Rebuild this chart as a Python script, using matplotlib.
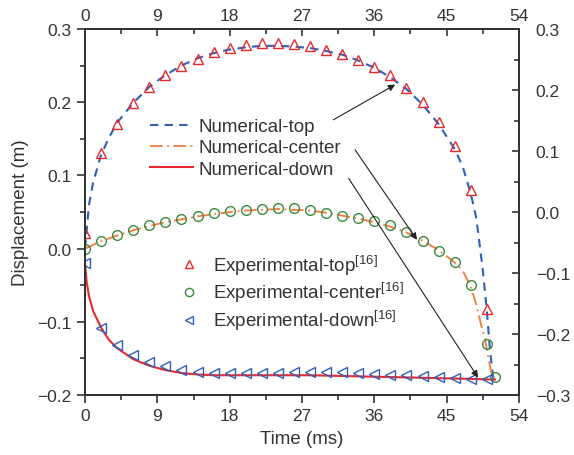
#!/usr/bin/env python3
"""Displacement vs time: numerical curves against experimental points (top / center / down)."""
import matplotlib
matplotlib.use("Agg")
import matplotlib.pyplot as plt

plt.rcParams["font.family"] = ["Liberation Sans", "DejaVu Sans"]
plt.rcParams["mathtext.default"] = "regular"

TEXT = "#333333"
BLUE = "#2f5fb8"
ORANGE = "#f47a3c"
RED = "#e8282c"
GREEN = "#3b8b3b"

# experimental points (time in ms, displacement in m)
exp_t = [0, 2, 4, 6, 8, 10, 12, 14, 16, 18, 20, 22, 24, 26, 28, 30, 32, 34, 36, 38, 40, 42, 44, 46, 48, 50]
exp_top = [0.021, 0.131, 0.170, 0.199, 0.221, 0.237, 0.250, 0.259, 0.268, 0.274, 0.278, 0.281, 0.281,
           0.279, 0.277, 0.271, 0.266, 0.258, 0.248, 0.237, 0.220, 0.200, 0.173, 0.140, 0.080, -0.082]
exp_center_t = exp_t + [51]
exp_center = [0.000, 0.010, 0.019, 0.025, 0.032, 0.037, 0.040, 0.044, 0.048, 0.052, 0.053, 0.054, 0.056,
              0.055, 0.053, 0.048, 0.044, 0.042, 0.038, 0.032, 0.022, 0.010, -0.003, -0.018, -0.050,
              -0.131, -0.176]
exp_down = [-0.020, -0.108, -0.132, -0.146, -0.155, -0.161, -0.166, -0.169, -0.170, -0.170, -0.170,
            -0.170, -0.170, -0.169, -0.169, -0.169, -0.169, -0.170, -0.171, -0.172, -0.173, -0.174,
            -0.176, -0.177, -0.178, -0.178]

# numerical curves
num_top_t = [0, 0.5, 1, 2, 3, 4, 6, 8, 10, 12, 14, 16, 18, 20, 22, 24, 26, 28, 30, 32, 34, 36, 38, 40,
             42, 44, 46, 47, 48, 48.7, 49.5, 50, 50.4, 50.8]
num_top = [0.0, 0.060, 0.090, 0.128, 0.152, 0.172, 0.199, 0.221, 0.237, 0.250, 0.260, 0.267, 0.272,
           0.275, 0.277, 0.277, 0.276, 0.274, 0.270, 0.265, 0.257, 0.247, 0.234, 0.218, 0.197, 0.170,
           0.136, 0.112, 0.075, 0.041, -0.030, -0.085, -0.140, -0.177]
num_center_t = [0, 2, 4, 6, 8, 10, 12, 14, 16, 18, 20, 22, 24, 26, 28, 30, 32, 34, 36, 38, 40, 42, 44,
                46, 47, 48, 48.7, 49.3, 49.8, 50.2, 50.6, 51.0]
num_center = [0.0, 0.010, 0.018, 0.025, 0.031, 0.036, 0.040, 0.044, 0.047, 0.050, 0.052, 0.053, 0.054,
              0.053, 0.052, 0.049, 0.045, 0.041, 0.036, 0.030, 0.022, 0.011, -0.002, -0.019, -0.030,
              -0.052, -0.077, -0.105, -0.125, -0.150, -0.172, -0.178]
num_down_t = [0, 0.2, 0.5, 1, 2, 3, 4, 6, 8, 10, 12, 14, 16, 20, 24, 28, 32, 36, 40, 44, 48, 51]
num_down = [-0.020, -0.045, -0.065, -0.085, -0.108, -0.125, -0.136, -0.151, -0.160, -0.166, -0.170,
            -0.172, -0.173, -0.173, -0.173, -0.173, -0.174, -0.175, -0.176, -0.177, -0.178, -0.179]

# annotation arrows: (text-side start, arrow tip)
arrows = [((30.9, 0.176), (38.6, 0.224)),
          ((33.6, 0.135), (41.3, 0.012)),
          ((32.8, 0.096), (48.9, -0.176))]

x_ticks = [0, 9, 18, 27, 36, 45, 54]


def main():
    fig = plt.figure(figsize=(5.74, 4.56), dpi=100)
    ax = fig.add_axes([85 / 574, 60 / 456, 434 / 574, 366 / 456])

    l_top, = ax.plot(num_top_t, num_top, color=BLUE, lw=1.5, ls=(0, (4, 3)))
    l_cen, = ax.plot(num_center_t, num_center, color=ORANGE, lw=1.3, ls=(0, (7, 2.5, 1, 2.5)))
    l_dn, = ax.plot(num_down_t, num_down, color=RED, lw=1.5)

    mk = dict(ls="none", markersize=7, markerfacecolor="none", markeredgewidth=1.0)
    m_top, = ax.plot(exp_t, exp_top, marker="^", markeredgecolor=RED, **mk)
    m_cen, = ax.plot(exp_center_t, exp_center, marker="o", markeredgecolor=GREEN, **mk)
    m_dn, = ax.plot(exp_t, exp_down, marker="<", markeredgecolor=BLUE, **mk)

    for start, tip in arrows:
        ax.annotate("", xy=tip, xytext=start,
                    arrowprops=dict(arrowstyle="-|>", color="#222222", lw=0.8,
                                    mutation_scale=10, shrinkA=0, shrinkB=0))

    ax.set_xlim(0, 54)
    ax.set_ylim(-0.2, 0.3)
    ax.set_xticks(x_ticks)
    ax.set_xticks([4.5 + 9 * i for i in range(6)], minor=True)
    ax.set_yticks([-0.2, -0.1, 0.0, 0.1, 0.2, 0.3])
    ax.set_yticklabels(["\u22120.2", "\u22120.1", "0.0", "0.1", "0.2", "0.3"])
    ax.set_yticks([-0.15, -0.05, 0.05, 0.15, 0.25], minor=True)
    ax.tick_params(which="both", direction="out", colors=TEXT, labelsize=12.5, width=1.2)
    ax.tick_params(which="major", length=6)
    ax.tick_params(which="minor", length=3.5)
    ax.set_xlabel("Time (ms)", fontsize=13.5, color=TEXT, labelpad=5)
    ax.set_ylabel("Displacement (m)", fontsize=13.5, color=TEXT, labelpad=6)

    leg1 = ax.legend([l_top, l_cen, l_dn], ["Numerical-top", "Numerical-center", "Numerical-down"],
                     loc="upper left", bbox_to_anchor=(0.133, 0.777), frameon=False,
                     fontsize=13.5, handlelength=2.3, handletextpad=0.3, labelspacing=0.22,
                     borderaxespad=0)
    for t in leg1.get_texts():
        t.set_color(TEXT)
    ax.add_artist(leg1)

    sup = "$^{[16]}$"
    leg2 = ax.legend([m_top, m_cen, m_dn],
                     ["Experimental-top" + sup, "Experimental-center" + sup, "Experimental-down" + sup],
                     loc="upper left", bbox_to_anchor=(0.2, 0.41), frameon=False,
                     fontsize=13.5, handlelength=1.0, handletextpad=0.8, labelspacing=0.2,
                     borderaxespad=0, markerscale=0.85)
    for t in leg2.get_texts():
        t.set_color(TEXT)

    ax_t = ax.twiny()
    ax_t.set_xlim(0, 54)
    ax_t.set_xticks(x_ticks)
    ax_t.set_xticks([4.5 + 9 * i for i in range(6)], minor=True)
    ax_t.tick_params(which="both", direction="in", colors=TEXT, labelsize=12.5, width=1.2, pad=4)
    ax_t.tick_params(which="major", length=5)
    ax_t.tick_params(which="minor", length=3.5)

    ax_r = ax.twinx()
    ax_r.set_ylim(-0.3, 0.3)
    ax_r.set_yticks([-0.3, -0.2, -0.1, 0.0, 0.1, 0.2, 0.3])
    ax_r.set_yticklabels(["\u22120.3", "\u22120.2", "\u22120.1", "0.0", "0.1", "0.2", "0.3"])
    ax_r.set_yticks([-0.25, -0.15, -0.05, 0.05, 0.15, 0.25], minor=True)
    ax_r.tick_params(which="both", direction="in", colors=TEXT, labelsize=12.5, width=1.2, pad=12)
    ax_r.tick_params(which="major", length=5)
    ax_r.tick_params(which="minor", length=3.5)

    for a in (ax, ax_t, ax_r):
        for s in a.spines.values():
            s.set_linewidth(1.4)
            s.set_color("#333333")

    fig.savefig("out.png", dpi=100)
    plt.close(fig)


if __name__ == "__main__":
    main()
